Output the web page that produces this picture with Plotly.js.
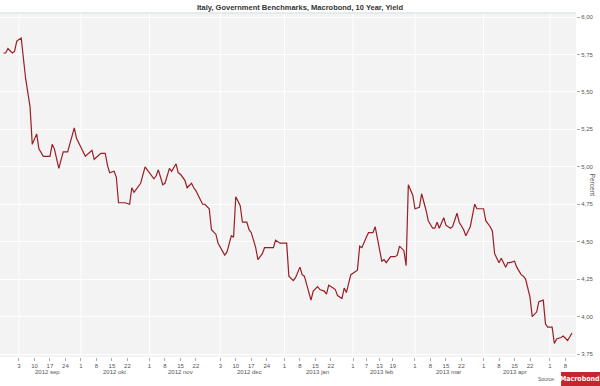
<!DOCTYPE html>
<html>
<head>
<meta charset="utf-8">
<script src="https://cdn.plot.ly/plotly-3.0.1.min.js"></script>
<style>html,body{margin:0;padding:0;background:#fff;}#chart{width:600px;height:386px;}</style>
</head>
<body>
<div id="chart"></div>
<script>
// Italy 10Y government benchmark yield (percent)
var dates = [
 "2012-08-27","2012-08-28","2012-08-29","2012-08-31","2012-09-01","2012-09-02","2012-09-04","2012-09-06","2012-09-08","2012-09-09",
 "2012-09-11","2012-09-12","2012-09-14","2012-09-15","2012-09-17","2012-09-18","2012-09-19","2012-09-21","2012-09-22","2012-09-23",
 "2012-09-25","2012-09-26","2012-09-28","2012-09-29","2012-10-01","2012-10-03","2012-10-06","2012-10-07","2012-10-10","2012-10-12",
 "2012-10-13","2012-10-14","2012-10-16","2012-10-17","2012-10-18","2012-10-21","2012-10-23","2012-10-24","2012-10-25","2012-10-28",
 "2012-10-30","2012-11-01","2012-11-03","2012-11-04","2012-11-05","2012-11-07","2012-11-08","2012-11-10","2012-11-11","2012-11-13",
 "2012-11-14","2012-11-15","2012-11-17","2012-11-18","2012-11-20","2012-11-21","2012-11-22","2012-11-24","2012-11-25","2012-11-26",
 "2012-11-28","2012-11-29","2012-12-01","2012-12-02","2012-12-04","2012-12-05","2012-12-06","2012-12-08","2012-12-09","2012-12-10",
 "2012-12-12","2012-12-13","2012-12-15","2012-12-16","2012-12-17","2012-12-19","2012-12-20","2012-12-22","2012-12-23","2012-12-25",
 "2012-12-27","2012-12-28","2012-12-30","2013-01-02","2013-01-03","2013-01-05","2013-01-06","2013-01-08","2013-01-09","2013-01-10",
 "2013-01-12","2013-01-13","2013-01-14","2013-01-16","2013-01-17","2013-01-19","2013-01-20","2013-01-21","2013-01-23","2013-01-24",
 "2013-01-25","2013-01-27","2013-01-28","2013-01-29","2013-01-31","2013-02-01","2013-02-03","2013-02-04","2013-02-05","2013-02-07",
 "2013-02-08","2013-02-10","2013-02-11","2013-02-14","2013-02-15","2013-02-16","2013-02-18","2013-02-20","2013-02-21","2013-02-22",
 "2013-02-24","2013-02-25","2013-02-26","2013-02-28","2013-03-01","2013-03-03","2013-03-04","2013-03-06","2013-03-07","2013-03-09",
 "2013-03-10","2013-03-11","2013-03-12","2013-03-14","2013-03-15","2013-03-17","2013-03-18","2013-03-20","2013-03-21","2013-03-23",
 "2013-03-24","2013-03-25","2013-03-26","2013-03-28","2013-03-29","2013-03-30","2013-04-01","2013-04-02","2013-04-04","2013-04-05",
 "2013-04-06","2013-04-08","2013-04-09","2013-04-11","2013-04-12","2013-04-13","2013-04-15","2013-04-16","2013-04-18","2013-04-19",
 "2013-04-20","2013-04-22","2013-04-23","2013-04-25","2013-04-26","2013-04-28","2013-04-29","2013-04-30","2013-05-02","2013-05-03",
 "2013-05-04","2013-05-06","2013-05-07","2013-05-09","2013-05-11"
];
var yields = [
 5.76,5.76,5.79,5.76,5.77,5.84,5.86,5.59,5.40,5.15,
 5.22,5.12,5.07,5.07,5.07,5.15,5.12,4.99,5.05,5.10,
 5.10,5.15,5.26,5.19,5.13,5.07,5.11,5.05,5.09,5.09,
 5.01,4.96,4.97,4.93,4.76,4.76,4.75,4.86,4.83,4.89,
 5.00,4.96,4.92,4.94,4.98,4.88,4.89,4.99,4.97,5.02,
 4.96,4.95,4.91,4.86,4.89,4.86,4.84,4.78,4.75,4.75,
 4.72,4.58,4.55,4.49,4.44,4.41,4.43,4.54,4.53,4.80,
 4.74,4.63,4.63,4.58,4.56,4.46,4.38,4.42,4.46,4.46,
 4.46,4.51,4.49,4.49,4.27,4.24,4.26,4.33,4.28,4.27,
 4.16,4.11,4.17,4.20,4.18,4.17,4.15,4.21,4.19,4.18,
 4.14,4.12,4.19,4.16,4.28,4.29,4.31,4.47,4.46,4.53,
 4.56,4.56,4.60,4.37,4.38,4.36,4.40,4.40,4.41,4.47,
 4.44,4.34,4.88,4.81,4.72,4.73,4.82,4.71,4.64,4.59,
 4.59,4.63,4.59,4.66,4.61,4.59,4.60,4.69,4.63,4.58,
 4.54,4.57,4.60,4.75,4.72,4.72,4.72,4.64,4.60,4.57,
 4.42,4.36,4.39,4.33,4.36,4.36,4.37,4.33,4.28,4.27,
 4.25,4.13,4.00,4.03,4.10,4.11,3.95,3.93,3.93,3.82,
 3.85,3.86,3.87,3.84,3.89
];
var tickDates = ["2012-09-03","2012-09-10","2012-09-17","2012-09-24","2012-10-01","2012-10-08","2012-10-15","2012-10-22",
 "2012-11-01","2012-11-08","2012-11-15","2012-11-22","2012-12-03","2012-12-10","2012-12-17","2012-12-24",
 "2013-01-01","2013-01-08","2013-01-15","2013-01-22","2013-02-01","2013-02-07","2013-02-13","2013-02-19",
 "2013-03-01","2013-03-08","2013-03-15","2013-03-22","2013-04-01","2013-04-08","2013-04-15","2013-04-22",
 "2013-05-01","2013-05-08"];
var tickLabels = ["3","10","17","24","1","8","15","22","1","8","15","22","3","10","17","24",
 "1","8","15","22","1","7","13","19","1","8","15","22","1","8","15","22","1","8"];
var monthGridDates = ["2012-09-03","2012-10-01","2012-11-01","2012-12-03","2013-01-01","2013-02-01","2013-03-01","2013-04-01","2013-05-01"];
var monthLabelDates = ["2012-09-16","2012-10-16","2012-11-15","2012-12-16","2013-01-16","2013-02-14","2013-03-16","2013-04-15"];
var monthLabels = ["2012 sep","2012 okt","2012 nov","2012 dec","2013 jan","2013 feb","2013 mar","2013 apr"];
var yTicks = [3.75,4.00,4.25,4.50,4.75,5.00,5.25,5.50,5.75,6.00];

var fontFam = "Liberation Sans, Arial, sans-serif";
var shapes = monthGridDates.map(function(d){
  return {type:"line", xref:"x", yref:"paper", x0:d, x1:d, y0:0, y1:1, layer:"below",
          line:{color:"#ffffff", width:1}};
});
shapes.push({type:"line", xref:"paper", yref:"paper", x0:0, x1:1, y0:1, y1:1,
             line:{color:"#dfe7ea", width:1.5}});
// Macrobond logo box
shapes.push({type:"rect", xref:"paper", yref:"paper", x0:0.974, x1:1.0417, y0:-0.0843, y1:-0.0436,
             line:{width:0}, fillcolor:"#c4262e"});

var annotations = monthLabels.map(function(t,i){
  return {text:t, x:monthLabelDates[i], xref:"x", y:0, yref:"paper", yanchor:"top",
          yshift:-10, showarrow:false, font:{family:fontFam, size:6, color:"#555"}};
});
annotations.push({text:"Percent", xref:"paper", yref:"paper", x:1.03, xanchor:"center", y:0.5, yanchor:"middle",
  textangle:90, showarrow:false, font:{family:fontFam, size:6.5, color:"#555"}});
annotations.push({text:"Source:", xref:"paper", yref:"paper", x:0.967, y:-0.064, xanchor:"right",
  yanchor:"middle", showarrow:false, font:{family:fontFam, size:5, color:"#555"}});
annotations.push({text:"<b>Macrobond</b>", xref:"paper", yref:"paper", x:1.0078, y:-0.064, xanchor:"center",
  yanchor:"middle", showarrow:false,
  font:{family:"DejaVu Sans Condensed, Liberation Sans Narrow, Liberation Sans", size:7, color:"#ffffff"}});

var trace = {x:dates, y:yields, type:"scatter", mode:"lines",
  line:{color:"#981f25", width:1.2}, hoverinfo:"skip"};

var layout = {
  width:600, height:386,
  margin:{l:0, r:24, t:13, b:29, pad:0},
  paper_bgcolor:"#ffffff", plot_bgcolor:"#f3f3f3",
  separators:",.",
  showlegend:false,
  title:{text:"<b>Italy, Government Benchmarks, Macrobond, 10 Year, Yield</b>", x:0.5, xanchor:"center",
         y:0.988, yanchor:"top", font:{family:fontFam, size:7.5, color:"#333"}},
  xaxis:{type:"date", range:["2012-08-25 10:00","2013-05-12 19:00"], tickmode:"array",
         tickvals:tickDates, ticktext:tickLabels, showgrid:false, zeroline:false,
         ticks:"outside", ticklen:3, tickcolor:"#aaa", tickwidth:1,
         tickfont:{family:fontFam, size:6, color:"#555"}, showline:false, fixedrange:true},
  yaxis:{side:"right", range:[3.73, 6.027], tickmode:"array", tickvals:yTicks,
         tickformat:".2f", showgrid:true, gridcolor:"#ffffff", gridwidth:1, zeroline:false,
         ticks:"outside", ticklen:3, tickcolor:"#aaa", tickwidth:1,
         tickfont:{family:fontFam, size:6, color:"#555"}, showline:false, fixedrange:true},
  shapes:shapes,
  annotations:annotations
};
Plotly.newPlot("chart", [trace], layout, {staticPlot:true, displayModeBar:false});
</script>
</body>
</html>
